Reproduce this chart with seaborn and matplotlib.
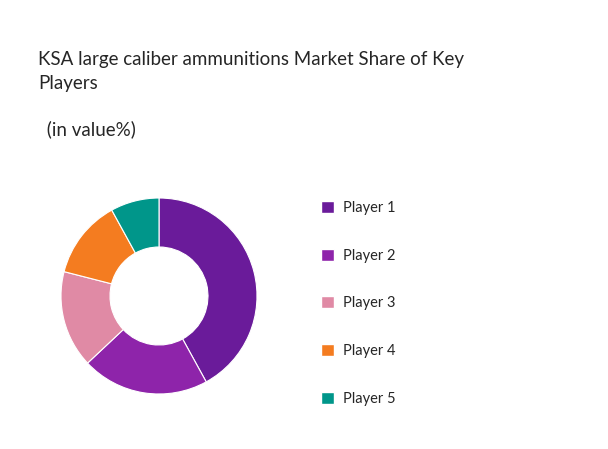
import matplotlib
matplotlib.use("Agg")
import matplotlib.pyplot as plt
import seaborn as sns
from matplotlib.patches import Patch

sns.set_theme(style="white")
plt.rcParams['font.family'] = ['Lato', 'DejaVu Sans']

players = ["Player 1", "Player 2", "Player 3", "Player 4", "Player 5"]
shares = [42, 21, 16, 13, 8]
colors = ["#6a1b9a", "#8e24aa", "#e08aa5", "#f47c20", "#00968a"]

fig = plt.figure(figsize=(6.08, 4.49), dpi=100)
W, H = 608, 449
cx, cy, r = 159, 296, 98
ax = fig.add_axes([(cx - r) / W, 1 - (cy + r) / H, 2 * r / W, 2 * r / H])
ax.pie(shares, colors=colors, startangle=90, counterclock=False, radius=1,
       wedgeprops=dict(width=0.5, edgecolor="white", linewidth=0.8))
ax.set_xlim(-1, 1); ax.set_ylim(-1, 1); ax.set_aspect("equal")
ax.axis("off")

fig.text(38 / W, 1 - 72 / H, "KSA large caliber ammunitions Market Share of Key\nPlayers",
         fontsize=13.5, va="center", ha="left", linespacing=1.5)
fig.text(42 / W, 1 - 129 / H, " (in value%)", fontsize=13.5, va="center", ha="left")

handles = [Patch(facecolor=c, label=p) for c, p in zip(colors, players)]
fig.legend(handles=handles, loc="upper left", bbox_to_anchor=(308 / W, 1 - 188 / H),
           frameon=False, fontsize=10.5, handlelength=0.9, handleheight=0.9,
           labelspacing=2.3, handletextpad=0.6)

fig.savefig("out.png", dpi=100, facecolor="white")
